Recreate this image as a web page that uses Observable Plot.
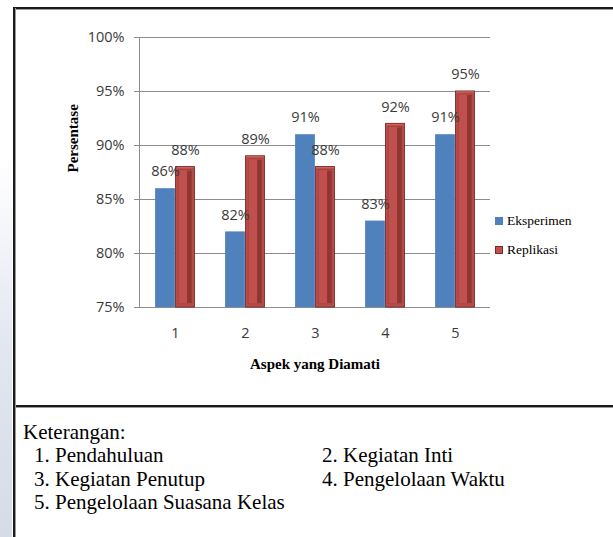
<!DOCTYPE html>
<html><head><meta charset="utf-8">
<script src="https://cdn.jsdelivr.net/npm/d3@7"></script>
<script src="https://cdn.jsdelivr.net/npm/@observablehq/plot@0.6"></script>
<style>
body{margin:0;background:#fff;}
#wrap{position:relative;width:613px;height:537px;overflow:hidden;background:#fff;}
#wrap svg{position:absolute;left:0;top:0;}
.strip{position:absolute;left:0;top:0;width:12px;height:537px;background:linear-gradient(to bottom,#fff 0%,#fff 30%,#e2e6ef 65%,#d7dbe8 100%);}
.hline{position:absolute;left:13px;width:600px;height:2px;background:#1a1a1a;box-shadow:0 1px 0 #9a9a9a;}
.vline{position:absolute;left:13px;top:8px;width:2px;height:529px;background:#1a1a1a;box-shadow:1px 0 0 #9a9a9a;}
.leg{position:absolute;font-family:"Liberation Serif","Times New Roman",serif;font-size:13.5px;color:#000;display:flex;align-items:center;}
.leg i{display:inline-block;width:8px;height:8px;margin-right:4px;box-sizing:border-box;}
.ket{position:absolute;font-family:"Liberation Serif","Times New Roman",serif;font-size:21px;line-height:24px;color:#000;white-space:nowrap;}
</style></head><body><div id="wrap"></div>
<script>
const categories = ["1","2","3","4","5"];
const series = ["Eksperimen","Replikasi"];
const eksperimen = [0.86,0.82,0.91,0.83,0.91];
const replikasi = [0.88,0.89,0.88,0.92,0.95];
const yTicks = [0.75,0.80,0.85,0.90,0.95,1.00];
const yTitle = "Persentase";
const xTitle = "Aspek yang Diamati";
const ketTitle = "Keterangan:";
const keterangan = ["1. Pendahuluan","2. Kegiatan Inti","3. Kegiatan Penutup","4. Pengelolaan Waktu","5. Pengelolaan Suasana Kelas"];

const blueRows = categories.map((c,i)=>({cat:c, series:series[0], value:eksperimen[i]}));
const redRows = categories.map((c,i)=>({cat:c, series:series[1], value:replikasi[i]}));

const W = 613, H = 400, mL = 139, mR = 123, mT = 37, mB = 93;
const bw = (W - mL - mR) / categories.length;
const barW = 20;
const ins = (bw - barW) / 2;
const pct = d3.format(".0%");
const labelFont = "'Open Sans', sans-serif";
const serif = "'Liberation Serif', 'Times New Roman', serif";

const chart = Plot.plot({
  width: W, height: H,
  marginLeft: mL, marginRight: mR, marginTop: mT, marginBottom: mB,
  style: {background: "transparent", fontFamily: labelFont},
  x: {type: "band", domain: categories, padding: 0},
  y: {domain: [0.75, 1.0]},
  marks: [
    Plot.gridY(yTicks, {stroke: "#8c8c8c", strokeOpacity: 1, strokeWidth: 1}),
    Plot.frame({anchor: "left", stroke: "#8c8c8c"}),
    Plot.axisY(yTicks, {tickFormat: pct, tickSize: 5, stroke: "#8c8c8c", tickPadding: 10, fontSize: 14.5, fill: "#3a3a3a", label: null}),
    Plot.axisX({tickSize: 0, tickPadding: 20, fontSize: 14.5, fill: "#3a3a3a", label: null}),
    // blue bars
    Plot.barY(blueRows, {x: "cat", y1: 0.75, y2: "value", fill: "#4F81BD", insetLeft: ins, insetRight: ins, dx: -barW/2}),
    // red bars: outer
    Plot.barY(redRows, {x: "cat", y1: 0.75, y2: "value", fill: "#C0504D", stroke: "#7a2b29", strokeWidth: 1, insetLeft: ins + 0.5, insetRight: ins + 0.5, dx: barW/2}),
    // red bars: dark right strip
    Plot.barY(redRows, {x: "cat", y1: 0.75, y2: "value", fill: "#8f3532", insetLeft: ins + 12, insetRight: ins + 3, insetTop: 4, insetBottom: 4, dx: barW/2}),
    // red bars: inner bevel
    Plot.barY(redRows, {x: "cat", y1: 0.75, y2: "value", fill: "none", stroke: "#a33f3c", strokeWidth: 1, insetLeft: ins + 3, insetRight: ins + 3, insetTop: 3, insetBottom: 3, dx: barW/2}),
    Plot.barY(redRows, {x: "cat", y1: d => d.value - 0.0012, y2: "value", fill: "#d36a66", insetLeft: ins + 1, insetRight: ins + 1, insetTop: 0.5, dx: barW/2}),
    // value labels
    Plot.text(blueRows, {x: "cat", y: "value", text: d => pct(d.value), dx: -barW/2, dy: -17, fontSize: 14.5, fill: "#3a3a3a"}),
    Plot.text(redRows, {x: "cat", y: "value", text: d => pct(d.value), dx: barW/2, dy: -17, fontSize: 14.5, fill: "#3a3a3a"}),
    // axis titles
    Plot.text([xTitle], {frameAnchor: "bottom", dy: 61, fontFamily: serif, fontWeight: "bold", fontSize: 15, fill: "#000"}),
    Plot.text([yTitle], {frameAnchor: "left", dx: -66, rotate: -90, fontFamily: serif, fontWeight: "bold", fontSize: 15, fill: "#000"})
  ]
});

const wrap = document.getElementById("wrap");
wrap.innerHTML = '<div class="strip"></div>';
wrap.appendChild(chart);

function add(html){ const t=document.createElement("div"); t.innerHTML=html; wrap.appendChild(t.firstChild); }
add('<div class="hline" style="top:7px"></div>');
add('<div class="hline" style="top:405px"></div>');
add('<div class="vline"></div>');
add('<div class="leg" style="left:495px;top:213px"><i style="background:#4F81BD"></i>' + series[0] + '</div>');
add('<div class="leg" style="left:495px;top:242px"><i style="background:#C0504D;border:1px solid #7a2b29"></i>' + series[1] + '</div>');
add('<div class="ket" style="left:23px;top:420px">' + ketTitle + '</div>');
const pos = [[34,443],[322,443],[34,467],[322,467],[34,490]];
keterangan.forEach((k,i)=>{
  add('<div class="ket" style="left:' + pos[i][0] + 'px;top:' + pos[i][1] + 'px">' + k + '</div>');
});
</script></body></html>
